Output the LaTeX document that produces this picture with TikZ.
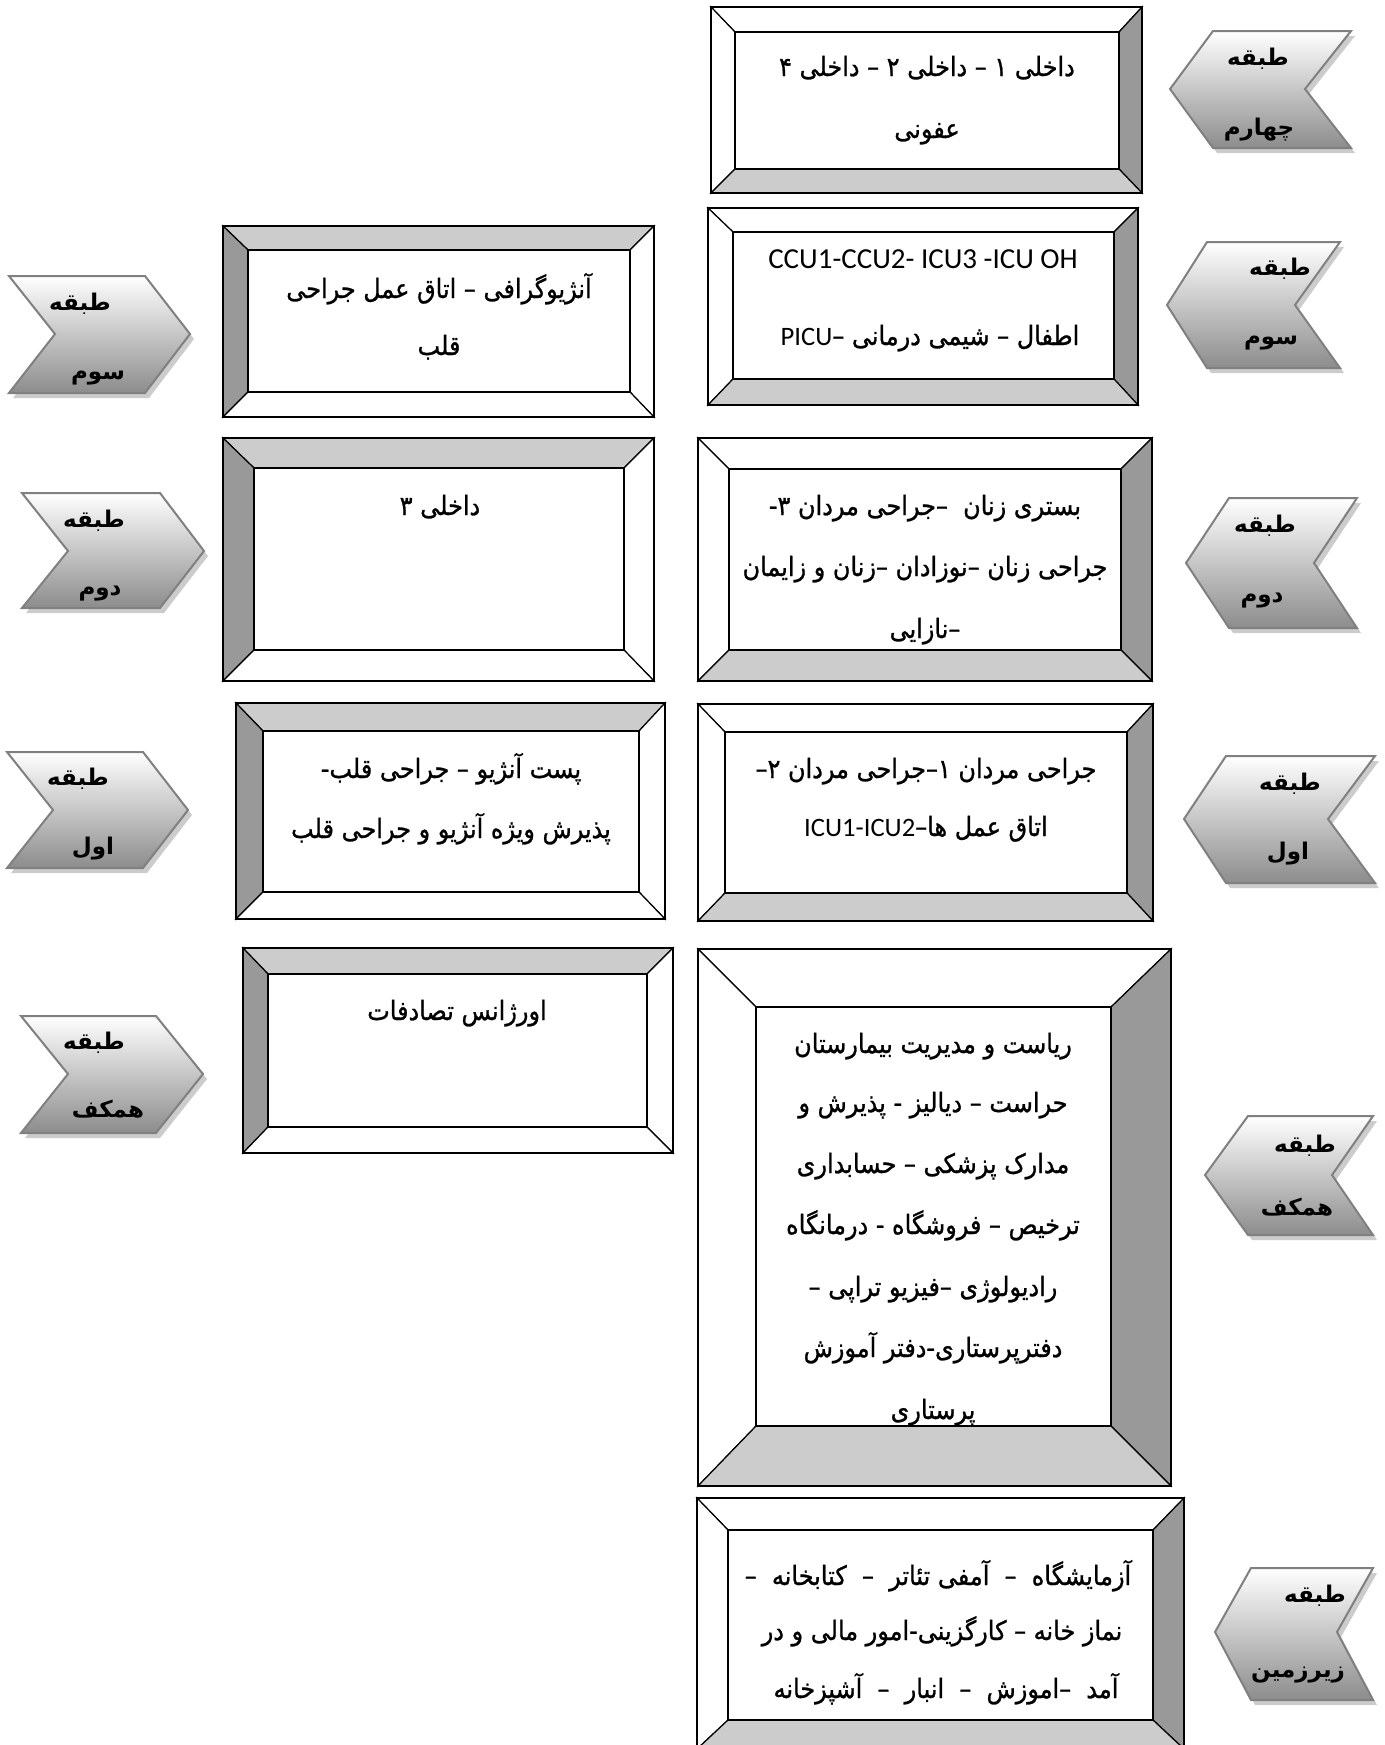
\documentclass[tikz,border=0pt]{standalone}
\usepackage{fontspec}
\TeXXeTstate=1
\newfontfamily\arabicfont[Script=Arabic]{DejaVu Sans}
\newfontfamily\arabicbody[Script=Arabic,FakeStretch=0.9,FakeBold=1]{DejaVu Sans}
\newfontfamily\latfont{Carlito}
\newcommand\fa[1]{\beginR #1\endR}
\newcommand\lt[1]{\beginL{\latfont #1}\endL}
\definecolor{gdark}{HTML}{999999}
\definecolor{glight}{HTML}{CCCCCC}
\tikzset{
 bev/.style={draw=black,line width=0.6pt,line join=miter},
 topR/.style={fill=white}, leftR/.style={fill=white}, rightR/.style={fill=gdark}, botR/.style={fill=glight},
 topL/.style={fill=glight}, leftL/.style={fill=gdark}, rightL/.style={fill=white}, botL/.style={fill=white},
 outerline/.style={draw=black,line width=1.2pt},
 chev/.style={draw=black!50,line width=1pt,top color=white,bottom color=black!45},
 chevshadow/.style={fill=black!20},
 txt/.style={font=\arabicbody\fontsize{13.3}{15}\selectfont,anchor=base,inner sep=0pt},
 lat/.style={font=\latfont\fontsize{14.5}{16}\selectfont,anchor=base,inner sep=0pt},
 lbl/.style={font=\arabicfont\bfseries\fontsize{11.5}{13}\selectfont,anchor=base,inner sep=0pt},
}
\newcommand\bevbox[9]{%
 \path[bev,top#1] (#2,#3) -- (#4,#3) -- (#8,#7) -- (#6,#7) -- cycle;
 \path[bev,left#1] (#2,#3) -- (#6,#7) -- (#6,#9) -- (#2,#5) -- cycle;
 \path[bev,right#1] (#4,#3) -- (#8,#7) -- (#8,#9) -- (#4,#5) -- cycle;
 \path[bev,bot#1] (#2,#5) -- (#6,#9) -- (#8,#9) -- (#4,#5) -- cycle;
 \path[bev,fill=white] (#6,#7) rectangle (#8,#9);
 \draw[outerline] (#2,#3) rectangle (#4,#5);
}
% pointing right: L R0 Tip N T B M
\newcommand\chevR[7]{%
 \path[chevshadow,shift={(4,5)}] (#1,#5) -- (#2,#5) -- (#3,#7) -- (#2,#6) -- (#1,#6) -- (#4,#7) -- cycle;
 \path[chev] (#1,#5) -- (#2,#5) -- (#3,#7) -- (#2,#6) -- (#1,#6) -- (#4,#7) -- cycle;
}
% pointing left: Tip L0 R N T B M
\newcommand\chevL[7]{%
 \path[chevshadow,shift={(4,5)}] (#1,#7) -- (#2,#5) -- (#3,#5) -- (#4,#7) -- (#3,#6) -- (#2,#6) -- cycle;
 \path[chev] (#1,#7) -- (#2,#5) -- (#3,#5) -- (#4,#7) -- (#3,#6) -- (#2,#6) -- cycle;
}
\begin{document}
\begin{tikzpicture}[x=0.5pt,y=-0.5pt]
\useasboundingbox (0,0) rectangle (1385,1745);
\clip (0,0) rectangle (1385,1745);
\fill[white] (0,0) rectangle (1385,1745);

% ---------- right column boxes ----------
\bevbox{R}{711}{7}{1142}{193}{735}{32}{1119}{169}
\node[txt] (b1a) at (927,76) {\fa{داخلی ۱ – داخلی ۲ – داخلی ۴}};
\node[txt] (b1b) at (927,138) {\fa{عفونی}};

\bevbox{R}{708}{208}{1138}{405}{733}{232}{1114}{379}
\node[lat] (b2a) at (923,268) {CCU1-CCU2- ICU3 -ICU OH};
\node[txt] (b2b) at (930,345) {\fa{اطفال – شیمی درمانی –\lt{PICU}}};

\bevbox{R}{698}{438}{1152}{681}{729}{469}{1121}{650}
\node[txt] (b3a) at (925,515) {\fa{بستری زنان \ –جراحی مردان ۳-}};
\node[txt] (b3b) at (925,576) {\fa{جراحی زنان –نوزادان –زنان و زایمان}};
\node[txt] (b3c) at (925,638) {\fa{–نازایی}};

\bevbox{R}{698}{704}{1153}{921}{725}{732}{1127}{893}
\node[txt] (b4a) at (926,778) {\fa{جراحی مردان ۱–جراحی مردان ۲–}};
\node[txt] (b4b) at (926,836) {\fa{اتاق عمل ها–\lt{ICU1-ICU2}}};

\bevbox{R}{698}{949}{1171}{1486}{756}{1007}{1111}{1426}
\node[txt] (b5a) at (933,1053) {\fa{ریاست و مدیریت بیمارستان}};
\node[txt] (b5b) at (933,1112) {\fa{حراست – دیالیز - پذیرش و}};
\node[txt] (b5c) at (933,1173) {\fa{مدارک پزشکی – حسابداری}};
\node[txt] (b5d) at (933,1234) {\fa{ترخیص – فروشگاه - درمانگاه}};
\node[txt] (b5e) at (933,1296) {\fa{رادیولوژی –فیزیو تراپی –}};
\node[txt] (b5f) at (933,1357) {\fa{دفترپرستاری-دفتر آموزش}};
\node[txt] (b5g) at (933,1419) {\fa{پرستاری}};

\bevbox{R}{697}{1498}{1184}{1749}{728}{1530}{1153}{1720}
\node[txt] (b6a) at (938,1585) {\fa{آزمایشگاه \ – \ آمفی تئاتر \ – \ کتابخانه \ –}};
\node[txt] (b6b) at (942,1640) {\fa{نماز خانه – کارگزینی-امور مالی و در}};
\node[txt] (b6c) at (946,1698) {\fa{آمد \ –اموزش \ – \ انبار \ – \ آشپزخانه}};

% ---------- left column boxes ----------
\bevbox{L}{223}{226}{654}{417}{248}{250}{630}{392}
\node[txt] (l1a) at (439,298) {\fa{آنژیوگرافی – اتاق عمل جراحی}};
\node[txt] (l1b) at (439,355) {\fa{قلب}};

\bevbox{L}{223}{438}{654}{681}{254}{468}{624}{650}
\node[txt] (l2a) at (440,515) {\fa{داخلی ۳}};

\bevbox{L}{236}{703}{665}{919}{263}{731}{639}{892}
\node[txt] (l3a) at (451,778) {\fa{پست آنژیو – جراحی قلب-}};
\node[txt] (l3b) at (451,838) {\fa{پذیرش ویژه آنژیو و جراحی قلب}};

\bevbox{L}{243}{948}{673}{1153}{268}{974}{647}{1127}
\node[txt] (l4a) at (457,1020) {\fa{اورژانس تصادفات}};

% ---------- left chevrons (pointing right) ----------
\chevR{9}{145}{190}{55}{276}{393}{334}
\node[lbl] (al3a) at (80,310) {\fa{طبقه}};
\node[lbl] (al3b) at (98,379) {\fa{سوم}};
\chevR{22}{160}{204}{68}{493}{608}{551}
\node[lbl] (al2a) at (94,527) {\fa{طبقه}};
\node[lbl] (al2b) at (100,595) {\fa{دوم}};
\chevR{7}{143}{188}{53}{752}{868}{810}
\node[lbl] (al1a) at (78,785) {\fa{طبقه}};
\node[lbl] (al1b) at (93,854) {\fa{اول}};
\chevR{21}{156}{203}{68}{1016}{1133}{1074}
\node[lbl] (al0a) at (94,1049) {\fa{طبقه}};
\node[lbl] (al0b) at (108,1117) {\fa{همکف}};

% ---------- right chevrons (pointing left) ----------
\chevL{1170}{1213}{1351}{1305}{31}{148}{89}
\node[lbl] (ar4a) at (1258,65) {\fa{طبقه}};
\node[lbl] (ar4b) at (1259,135) {\fa{چهارم}};
\chevL{1167}{1207}{1340}{1295}{242}{368}{305}
\node[lbl] (ar3a) at (1280,275) {\fa{طبقه}};
\node[lbl] (ar3b) at (1271,344) {\fa{سوم}};
\chevL{1186}{1229}{1357}{1314}{498}{628}{563}
\node[lbl] (ar2a) at (1265,532) {\fa{طبقه}};
\node[lbl] (ar2b) at (1262,602) {\fa{دوم}};
\chevL{1184}{1226}{1375}{1328}{756}{883}{819}
\node[lbl] (ar1a) at (1290,790) {\fa{طبقه}};
\node[lbl] (ar1b) at (1288,859) {\fa{اول}};
\chevL{1205}{1248}{1373}{1332}{1116}{1235}{1175}
\node[lbl] (ar0a) at (1305,1152) {\fa{طبقه}};
\node[lbl] (ar0b) at (1297,1215) {\fa{همکف}};
\chevL{1215}{1251}{1373}{1337}{1568}{1700}{1632}
\node[lbl] (arba) at (1315,1602) {\fa{طبقه}};
\node[lbl] (arbb) at (1298,1677) {\fa{زیرزمین}};
\end{tikzpicture}
\end{document}
